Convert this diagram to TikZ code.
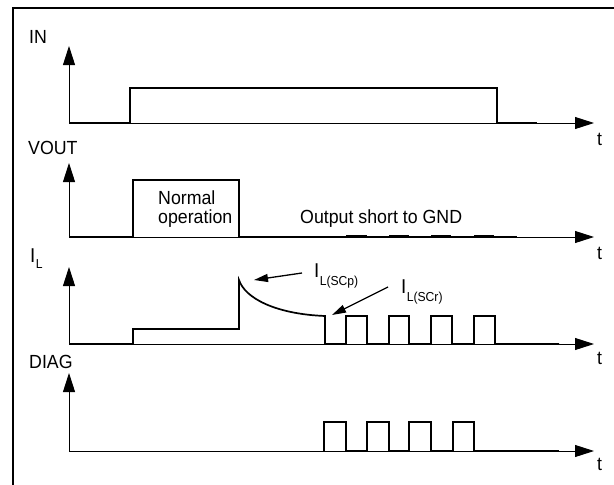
\documentclass[tikz,border=0pt]{standalone}
\usepackage{fontspec}
\setmainfont{Liberation Sans}
\newfontfamily\labfont[FakeStretch=0.935]{Liberation Sans}
\usetikzlibrary{arrows.meta}
\begin{document}
\begin{tikzpicture}[x=1pt,y=-1pt,
  lab/.style={inner sep=0pt,anchor=base west,font=\labfont\fontsize{19}{19}\selectfont},
  ilab/.style={inner sep=0pt,anchor=base west,font=\labfont\fontsize{20}{20}\selectfont},
  sublab/.style={inner sep=0pt,anchor=base west,font=\labfont\fontsize{13}{13}\selectfont},
  axis/.style={line width=0.9pt,-{Triangle[length=19pt,width=12pt]}},
  sig/.style={line width=1.7pt,line join=miter,line cap=butt},
  callout/.style={line width=1.3pt,-{Triangle[length=14pt,width=8pt]}},
  frame/.style={line width=1.4pt}]
\useasboundingbox (0,0) rectangle (614,485);
% frame (left and top edges)
\draw[frame] (13,485) -- (13,8) -- (614,8);

% axes origins
\coordinate (o1) at (69,123);
\coordinate (o2) at (69,237);
\coordinate (o3) at (69,344);
\coordinate (o4) at (69,451);
\foreach \o/\y/\ty in {o1/123/46, o2/237/163, o3/344/267, o4/451/373}{
  \coordinate (\o v) at (69,\ty);
  \coordinate (\o h) at (594,\y);
  \draw[axis] (\o) -- (\o v);
  \draw[axis] (\o) -- (\o h);
}

% IN
\draw[sig] (o1) -- (130,123) -- (130,88) -- (497,88) -- (497,123) -- (537,123);
% VOUT
\draw[sig] (o2) -- (133,237) -- (133,180) -- (239,180) -- (239,237) -- (517,237);
\foreach \a/\b in {346/367, 389/409, 431/451, 474/494}{
  \draw[line width=1.5pt] (\a,235.3) -- (\b,235.3);
}
% I_L
\draw[sig] (o3) -- (133,344) -- (133,329) -- (239,329) -- (239,280)
  .. controls (245,298) and (275,314) .. (325,316) -- (325,344)
  -- (346,344) -- (346,316) -- (367,316) -- (367,344)
  -- (389,344) -- (389,316) -- (409,316) -- (409,344)
  -- (431,344) -- (431,316) -- (452,316) -- (452,344)
  -- (474,344) -- (474,316) -- (495,316) -- (495,344) -- (559,344);
% DIAG
\draw[sig] (324,451) -- (324,422) -- (346,422) -- (346,451)
  -- (367,451) -- (367,422) -- (389,422) -- (389,451)
  -- (409,451) -- (409,422) -- (431,422) -- (431,451)
  -- (453,451) -- (453,422) -- (474,422) -- (474,451) -- (559,451);

% labels
\node[lab] (lin) at (29,43) {IN};
\node[lab] (lvout) at (28,154) {VOUT};
\node[ilab] (lil) at (30,262) {I};
\node[sublab] (lils) at (lil.base east) [yshift=-6pt] {L};
\node[lab] (ldiag) at (29,368) {DIAG};
\node[lab] (t1) at (597,145) {t};
\node[lab] (t2) at (597,259) {t};
\node[lab] (t3) at (597,364) {t};
\node[lab] (t4) at (597,470) {t};
\node[lab] (norm1) at (158,204) {Normal};
\node[lab] (norm2) at (158,223) {operation};
\node[lab] (short) at (300,223) {Output short to GND};

\node[ilab] (scp) at (314,277) {I};
\node[sublab] (scps) at (scp.base east) [yshift=-8pt] {L(SCp)};
\node[ilab] (scr) at (401,293) {I};
\node[sublab] (scrs) at (scr.base east) [yshift=-8pt] {L(SCr)};

\coordinate (pk) at (254,280);
\coordinate (vl) at (332,315);
\draw[callout] ([xshift=-12pt,yshift=4pt]scp.base west) -- (pk);
\draw[callout] ([xshift=-13pt,yshift=6pt]scr.base west) -- (vl);
\end{tikzpicture}
\end{document}
